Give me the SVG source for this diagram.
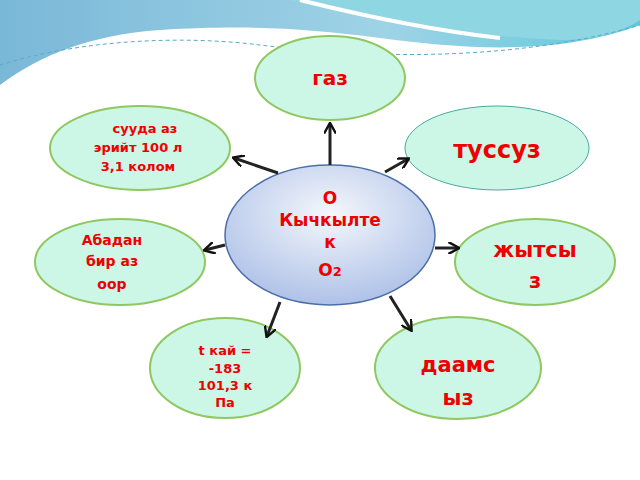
<svg xmlns="http://www.w3.org/2000/svg" width="640" height="480" viewBox="0 0 640 480">
<defs>
<linearGradient id="wave" x1="0" y1="0" x2="1" y2="0"><stop offset="0" stop-color="#7ab8d8"/><stop offset="0.6" stop-color="#9fd3e6"/><stop offset="1" stop-color="#5fc8dc"/></linearGradient>
<radialGradient id="cg" cx="0.5" cy="0.35" r="0.7"><stop offset="0" stop-color="#f4f7fc"/><stop offset="1" stop-color="#a9bde6"/></radialGradient>
<marker id="ah" viewBox="0 0 10 10" refX="8" refY="5" markerWidth="4" markerHeight="4" orient="auto"><path d="M0,0 L9,5 L0,10" fill="none" stroke="#111" stroke-width="2"/></marker>
<style>
.n{fill:#ccf7e6;stroke:#8fc860;stroke-width:2}
.t{font-family:"DejaVu Sans",sans-serif;font-weight:bold;fill:#ee0000;text-anchor:middle}
.c line{stroke:#222;stroke-width:3;marker-end:url(#ah)}
</style>
</defs>
<rect width="640" height="480" fill="#fff"/>
<path d="M0,0 H640 V25 C560,55 470,50 380,38 C300,28 250,25 160,30 C90,35 40,55 0,85 Z" fill="url(#wave)"/>
<path d="M290,0 C360,20 460,35 560,40 C600,40 625,30 640,20 V0 Z" fill="#8fd6e3"/>
<path d="M300,0 C360,15 430,30 500,38" fill="none" stroke="#fff" stroke-width="4"/>
<path d="M0,65 C80,40 180,35 260,45 C380,60 520,60 640,25" fill="none" stroke="#5aa9c9" stroke-width="1" stroke-dasharray="4 3"/>
<g id="center"><ellipse cx="330" cy="235" rx="105" ry="70" fill="url(#cg)" stroke="#4a6fa8" stroke-width="1.5"/>
<text class="t" font-size="17" x="330"><tspan x="330" y="204">О</tspan><tspan x="330" y="226">Кычкылте</tspan><tspan x="330" y="248">к</tspan><tspan x="330" y="276">О<tspan font-size="13">2</tspan></tspan></text></g>
<g id="gaz"><ellipse class="n" cx="330" cy="78" rx="75" ry="42"/><text class="t" font-size="20" x="330" y="85">газ</text></g>
<g id="suuda"><ellipse class="n" cx="140" cy="148" rx="90" ry="42" stroke="#a8c850"/><text class="t" font-size="13"><tspan x="145" y="133">сууда аз</tspan><tspan x="138" y="152">эрийт 100 л</tspan><tspan x="138" y="171">3,1 колом</tspan></text></g>
<g id="tussuz"><ellipse cx="497" cy="148" rx="92" ry="42" fill="#ccf7e6" stroke="#4aa8a0" stroke-width="1"/><text class="t" font-size="24" x="497" y="158">туссуз</text></g>
<g id="abadan"><ellipse class="n" cx="120" cy="262" rx="85" ry="43"/><text class="t" font-size="14"><tspan x="112" y="245">Абадан</tspan><tspan x="112" y="266">бир  аз</tspan><tspan x="112" y="289">оор</tspan></text></g>
<g id="jyt"><ellipse class="n" cx="535" cy="262" rx="80" ry="43"/><text class="t" font-size="21"><tspan x="535" y="257">жытсы</tspan><tspan x="535" y="288">з</tspan></text></g>
<g id="tkai"><ellipse class="n" cx="225" cy="368" rx="75" ry="50"/><text class="t" font-size="13"><tspan x="225" y="355">t кай =</tspan><tspan x="225" y="373">-183</tspan><tspan x="225" y="390">101,3 к</tspan><tspan x="225" y="407">Па</tspan></text></g>
<g id="daam"><ellipse class="n" cx="458" cy="368" rx="83" ry="51"/><text class="t" font-size="21"><tspan x="458" y="372">даамс</tspan><tspan x="458" y="405">ыз</tspan></text></g>
<g class="c">
<line x1="330" y1="165" x2="330" y2="124"/>
<line x1="278" y1="173" x2="234" y2="158"/>
<line x1="385" y1="172" x2="408" y2="159"/>
<line x1="225" y1="245" x2="205" y2="250"/>
<line x1="435" y1="248" x2="458" y2="248"/>
<line x1="280" y1="302" x2="267" y2="336"/>
<line x1="390" y1="296" x2="411" y2="330"/>
</g>
</svg>
